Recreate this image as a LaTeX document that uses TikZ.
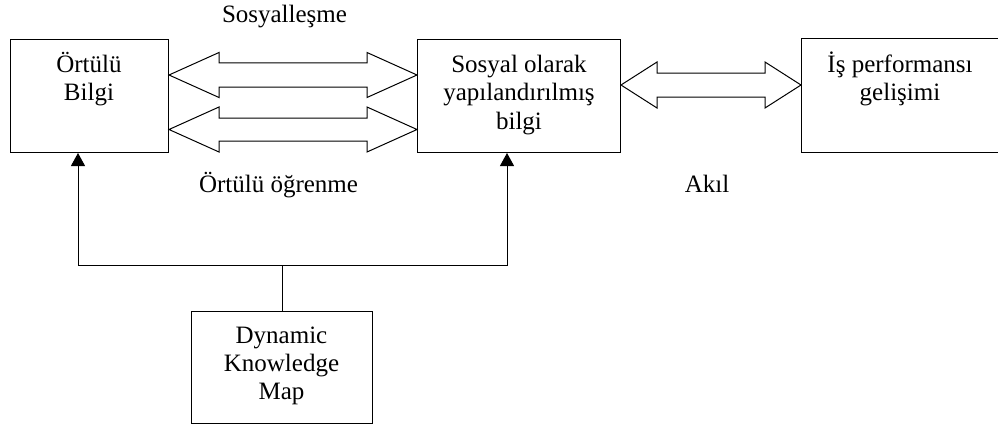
\documentclass[tikz,border=0pt]{standalone}
\usepackage{fontspec}
\setmainfont{Liberation Serif}
\usetikzlibrary{calc,arrows.meta}

% Hollow two-headed block arrow between two tip points on one horizontal line.
% #1, #2: left and right tips; #3: head length; #4: head half-width; #5: shaft half-width
\newcommand\widearrow[5]{%
  \draw[fat] let \p1=(#1), \p2=(#2) in
    (\x1,\y1) -- (\x1+#3,\y1+#4) -- (\x1+#3,\y1+#5) -- (\x2-#3,\y1+#5)
    -- (\x2-#3,\y1+#4) -- (\x2,\y1) -- (\x2-#3,\y1-#4) -- (\x2-#3,\y1-#5)
    -- (\x1+#3,\y1-#5) -- (\x1+#3,\y1-#4) -- cycle;}

\begin{document}
\begin{tikzpicture}[x=1pt,y=-1pt,
  box/.style={draw, line width=1pt, inner sep=0pt, anchor=north west},
  txt/.style={inner sep=0pt, anchor=base, font=\fontsize{25}{28}\selectfont},
  fat/.style={draw, line width=1pt, fill=white, line join=miter},
  link/.style={line width=1pt},
  tip/.style={link, -{Triangle[width=14pt,length=13pt]}}]
\useasboundingbox (0,0) rectangle (998,428);
\fill[white] (0,0) rectangle (998,428);

% boxes
\node[box, minimum width=158pt, minimum height=113pt] (tacit) at (10,39) {};
\node[box, minimum width=203pt, minimum height=113pt] (social) at (417,39) {};
\node[inner sep=0pt, anchor=north west, minimum width=197pt, minimum height=113pt] (perf) at (801,39) {};
\draw[link] (perf.north east) -- (perf.north west) -- (perf.south west) -- (perf.south east);
\node[box, minimum width=181pt, minimum height=112pt] (dkm) at (191,311) {};

% box texts
\node[txt] (tacit-t) at (89,73) {\begin{tabular}[t]{@{}c@{}}Örtülü\\Bilgi\end{tabular}};
\node[txt] (social-t) at (519,73) {\begin{tabular}[t]{@{}c@{}}Sosyal olarak\\yapılandırılmış\\bilgi\end{tabular}};
\node[txt] (perf-t) at (900,73) {\begin{tabular}[t]{@{}c@{}}İş performansı\\gelişimi\end{tabular}};
\node[txt] (dkm-t) at (281.5,343) {\begin{tabular}[t]{@{}c@{}}Dynamic\\Knowledge\\Map\end{tabular}};

% free labels
\node[txt] (lbl-soc) at (284.5,23) {Sosyalleşme};
\node[txt] (lbl-learn) at (278.5,192) {Örtülü öğrenme};
\node[txt] (lbl-mind) at (707,192) {Akıl};

% block arrows
\coordinate (u1) at ($(tacit.north east)+(0,36)$);
\coordinate (u2) at ($(social.north west)+(0,36)$);
\coordinate (l1) at ($(tacit.north east)+(0,90.5)$);
\coordinate (l2) at ($(social.north west)+(0,90.5)$);
\coordinate (r1) at ($(social.north east)+(0,46)$);
\coordinate (r2) at ($(perf.north west)+(0,46)$);
\widearrow{u1}{u2}{50pt}{22.5pt}{12pt}
\widearrow{l1}{l2}{50pt}{22.5pt}{11.5pt}
\widearrow{r1}{r2}{36pt}{23pt}{12pt}

% feedback lines from the knowledge map
\coordinate (j) at ($(dkm.north)+(0,-46)$);
\coordinate (tacit-in) at ($(tacit.south west)+(68,0)$);
\coordinate (social-in) at ($(social.south west)+(90,0)$);
\draw[link] (dkm.north) -- (j);
\draw[tip] (j) -| (tacit-in);
\draw[tip] (j) -| (social-in);
\end{tikzpicture}
\end{document}
